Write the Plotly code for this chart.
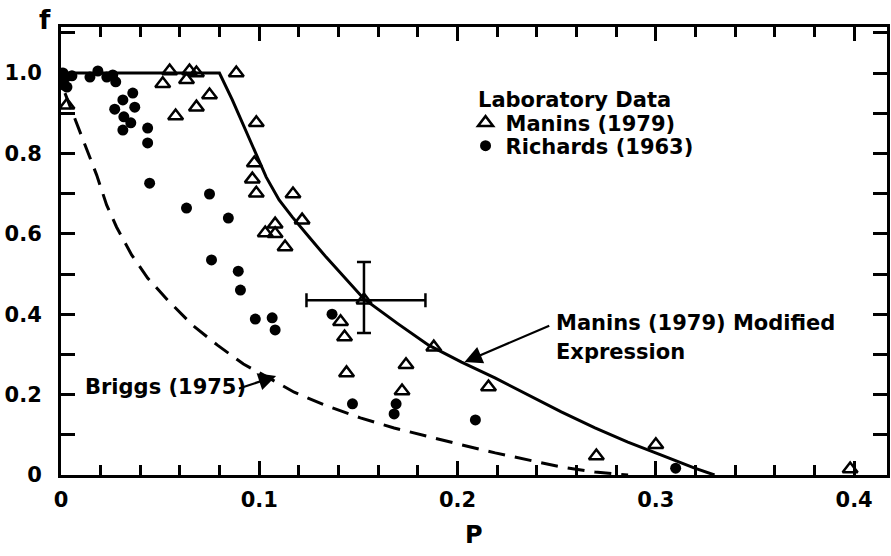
import plotly.graph_objects as go

# ---- data ----
manins_p = [0.003, 0.0548, 0.0513, 0.0633, 0.0648, 0.0683, 0.0749, 0.0683, 0.0578, 0.0884,
            0.0985, 0.0975, 0.0965, 0.0985, 0.117, 0.1216, 0.108, 0.103, 0.108, 0.113,
            0.141, 0.143, 0.144, 0.174, 0.172, 0.188, 0.2156, 0.270, 0.300, 0.398]
manins_f = [0.92, 1.005, 0.973, 0.983, 1.005, 1.0, 0.945, 0.915, 0.893, 1.0,
            0.876, 0.776, 0.736, 0.701, 0.699, 0.634, 0.624, 0.602, 0.600, 0.567,
            0.381, 0.343, 0.254, 0.274, 0.209, 0.318, 0.219, 0.047, 0.075, 0.015]

# Manins point with error bars
err_p = [0.1528]
err_f = [0.435]
err_p_minus = [0.029]
err_p_plus = [0.031]
err_f_minus = [0.082]
err_f_plus = [0.095]

richards_p = [0.001, 0.0025, 0.0015, 0.003, 0.0055, 0.0005,
              0.0146, 0.0186, 0.0231, 0.0261, 0.0276, 0.0362, 0.0372, 0.0312, 0.0271,
              0.0317, 0.0352, 0.0312, 0.0437, 0.0437, 0.0447, 0.0633, 0.0749, 0.0844,
              0.0759, 0.0894, 0.0905, 0.098, 0.1065, 0.108, 0.1367, 0.147, 0.169, 0.168,
              0.209, 0.310]
richards_f = [1.0, 0.99, 0.97, 0.965, 0.993, 0.983,
              0.990, 1.005, 0.990, 0.995, 0.978, 0.950, 0.915, 0.933, 0.910,
              0.891, 0.876, 0.858, 0.863, 0.826, 0.726, 0.664, 0.699, 0.639,
              0.535, 0.507, 0.460, 0.388, 0.391, 0.361, 0.400, 0.177, 0.177, 0.152,
              0.137, 0.017]

# Manins (1979) modified expression curve (read points)
curve_p = [0.0, 0.0799, 0.0864, 0.0915, 0.0975, 0.1035, 0.110, 0.1166, 0.1251, 0.1337,
           0.1528, 0.170, 0.1854, 0.2020, 0.2191, 0.2357, 0.2523, 0.2693, 0.2859, 0.3025,
           0.3196, 0.3296]
curve_f = [1.0, 1.0, 0.933, 0.876, 0.808, 0.741, 0.684, 0.642, 0.592, 0.542,
           0.438, 0.376, 0.323, 0.281, 0.241, 0.199, 0.157, 0.117, 0.082, 0.050,
           0.017, 0.0]

# Briggs (1975) curve (read points)
briggs_p = [0.002, 0.0085, 0.0146, 0.018, 0.023, 0.028, 0.0357, 0.0437, 0.0538, 0.0663,
            0.0789, 0.092, 0.105, 0.1176, 0.134, 0.151, 0.168, 0.1854, 0.202, 0.219,
            0.2357, 0.2523, 0.2693, 0.286]
briggs_f = [0.95, 0.866, 0.791, 0.746, 0.672, 0.617, 0.547, 0.490, 0.435, 0.373,
            0.323, 0.276, 0.241, 0.206, 0.172, 0.142, 0.117, 0.095, 0.075, 0.055,
            0.037, 0.020, 0.0075, 0.0]

x_tickvals = [0, 0.1, 0.2, 0.3, 0.4]
x_ticktext = ["0", "0.1", "0.2", "0.3", "0.4"]
y_tickvals = [0, 0.2, 0.4, 0.6, 0.8, 1.0]
y_ticktext = ["0", "0.2", "0.4", "0.6", "0.8", "1.0"]

legend_title = "Laboratory Data"
legend_manins = "Manins (1979)"
legend_richards = "Richards (1963)"

FONT = "DejaVu Sans"
BLACK = "#000000"

# plot area geometry (pixels)
L, R, T, B = 61, 890, 27, 475
PW, PH = R - L, B - T


def px(xp):
    return (xp - L) / PW


def py(yp):
    return (B - yp) / PH


tri_marker = dict(symbol="triangle-up-open", size=13, color=BLACK, line=dict(width=2.5, color=BLACK))
dot_marker = dict(symbol="circle", size=11, color=BLACK, line=dict(width=0))

fig = go.Figure()

fig.add_trace(go.Scatter(x=curve_p, y=curve_f, mode="lines", line=dict(color=BLACK, width=3),
                         showlegend=False, hoverinfo="skip"))
fig.add_trace(go.Scatter(x=briggs_p, y=briggs_f, mode="lines",
                         line=dict(color=BLACK, width=3, dash="17px,10px"),
                         showlegend=False, hoverinfo="skip"))
fig.add_trace(go.Scatter(x=manins_p, y=manins_f, mode="markers", name=legend_manins, legend="legend",
                         marker=tri_marker))
fig.add_trace(go.Scatter(x=richards_p, y=richards_f, mode="markers", name=legend_richards, legend="legend2",
                         marker=dot_marker))
fig.add_trace(go.Scatter(x=err_p, y=err_f, mode="markers", showlegend=False, marker=tri_marker,
                         error_x=dict(type="data", symmetric=False, array=err_p_plus, arrayminus=err_p_minus,
                                      color=BLACK, thickness=2.5, width=7),
                         error_y=dict(type="data", symmetric=False, array=err_f_plus, arrayminus=err_f_minus,
                                      color=BLACK, thickness=2.5, width=7)))

axis_common = dict(showgrid=False, zeroline=False, showline=True, linecolor=BLACK, linewidth=3,
                   mirror="allticks", ticks="inside", tickcolor=BLACK, tickwidth=2.5,
                   tickfont=dict(family=FONT, size=21, color=BLACK, weight="bold"))

fig.update_xaxes(range=[0, (R - L) / 1990], tickvals=x_tickvals, ticktext=x_ticktext, ticklen=14,
                 ticklabelstandoff=4,
                 minor=dict(dtick=0.02, tick0=0, ticks="inside", ticklen=10, tickwidth=2.5, tickcolor=BLACK),
                 **axis_common)
fig.update_yaxes(range=[0, (B - T) / 402], tickvals=y_tickvals, ticktext=y_ticktext, ticklen=14,
                 ticklabelstandoff=12,
                 minor=dict(dtick=0.1, tick0=0, ticks="inside", ticklen=14, tickwidth=2.5, tickcolor=BLACK),
                 **axis_common)

ann_font = dict(family=FONT, size=21, color=BLACK, weight="bold")
leg_common = dict(xanchor="left", yanchor="middle", bgcolor="rgba(0,0,0,0)", borderwidth=0,
                  font=ann_font, itemwidth=30)
fig.update_layout(
    width=891, height=556,
    margin=dict(l=L, r=891 - R, t=T, b=556 - B),
    paper_bgcolor="white", plot_bgcolor="white",
    showlegend=True,
    legend=dict(x=px(467), y=py(123), **leg_common),
    legend2=dict(x=px(467), y=py(146), **leg_common),
    annotations=[
        dict(text="f", xref="paper", yref="paper", x=px(45), y=py(3), xanchor="center", yanchor="top",
             showarrow=False, font=dict(family=FONT, size=26, color=BLACK, weight="bold")),
        dict(text="P", xref="paper", yref="paper", x=px(475), y=py(535), xanchor="center", yanchor="middle",
             showarrow=False, font=dict(family=FONT, size=24, color=BLACK, weight="bold")),
        dict(text=legend_title, xref="paper", yref="paper", x=px(478), y=py(100), xanchor="left", yanchor="middle",
             showarrow=False, font=ann_font),
        dict(text="Briggs (1975)", x=0.011, y=0.219, xanchor="left", yanchor="middle", showarrow=False, font=ann_font),
        dict(text="Manins (1979) Modified", x=0.2487, y=0.378, xanchor="left", yanchor="middle", showarrow=False, font=ann_font),
        dict(text="Expression", x=0.2487, y=0.306, xanchor="left", yanchor="middle", showarrow=False, font=ann_font),
        dict(text="", x=0.1085, y=0.246, ax=0.089, ay=0.214, axref="x", ayref="y", showarrow=True,
             arrowhead=2, arrowsize=1.6, arrowwidth=2.2, arrowcolor=BLACK),
        dict(text="", x=0.2035, y=0.281, ax=0.247, ay=0.373, axref="x", ayref="y", showarrow=True,
             arrowhead=2, arrowsize=1.6, arrowwidth=2.2, arrowcolor=BLACK),
    ],
)

fig.write_html("out.html")
